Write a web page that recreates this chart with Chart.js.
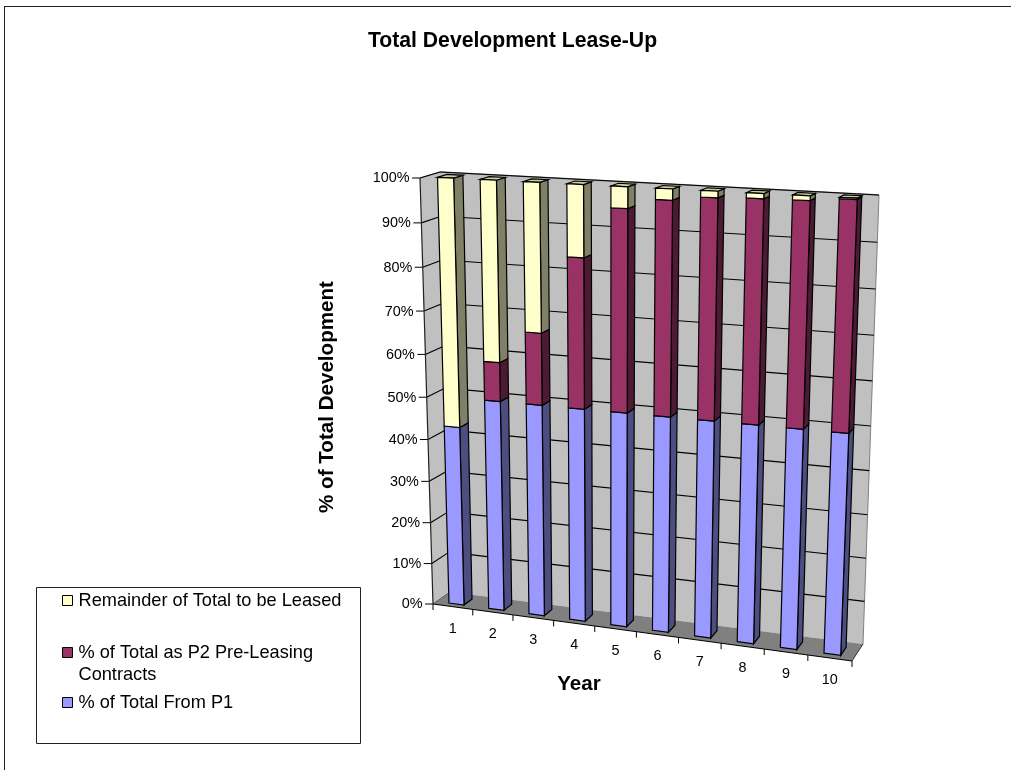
<!DOCTYPE html>
<html>
<head>
<meta charset="utf-8">
<title>Total Development Lease-Up</title>
<script src="https://cdn.jsdelivr.net/npm/chart.js@4"></script>
<style>
    html, body { margin: 0; padding: 0; background: #fff; overflow: hidden; }
    #wrap { width: 1011px; height: 770px; overflow: hidden; }
    canvas { display: block; }
</style>
</head>
<body>
<div id="wrap"><canvas id="leaseUp" width="1025" height="770"></canvas></div>
<script>
const years = ['1', '2', '3', '4', '5', '6', '7', '8', '9', '10'];
const fromP1 = [43, 50, 50, 50, 50, 50, 50, 50, 50, 50];
const p2PreLeasing = [0, 9, 16.5, 34, 45.3, 47.6, 48.6, 48.9, 49, 49.7];
const remainder = [57, 41, 33.5, 16, 4.7, 2.4, 1.4, 1.1, 1, 0.3];

const FONT = '"Liberation Sans", Arial, sans-serif';

// corners of the 3d box, named by x (l/r), height (b/t) and depth (f/k)
const box = {
    lbf: [433, 604], rbf: [852, 661], lbk: [450, 592], rbk: [863, 644],
    ltf: [420, 178], rtf: [870, 200], ltk: [440, 172], rtk: [879, 195]
};
const BAR_FRONT = 0.22, BAR_BACK = 0.70;

function warp(t, k) {
    return t / (t + k * (1 - t));
}

// u along the years, v up the value axis, w from front to back, all 0..1
function project(u, v, w) {
    const s = warp(u, 1.06), h = warp(v, 1.06);
    const out = [0, 0];
    for (let i = 0; i < 2; i++) {
        const bottom = (box.lbf[i] * (1 - s) + box.rbf[i] * s) * (1 - w) + (box.lbk[i] * (1 - s) + box.rbk[i] * s) * w;
        const top = (box.ltf[i] * (1 - s) + box.rtf[i] * s) * (1 - w) + (box.ltk[i] * (1 - s) + box.rtk[i] * s) * w;
        out[i] = bottom * (1 - h) + top * h;
    }
    return out;
}

function face(ctx, pts, fill, stroke, width) {
    ctx.beginPath();
    pts.forEach((p, i) => i ? ctx.lineTo(p[0], p[1]) : ctx.moveTo(p[0], p[1]));
    ctx.closePath();
    if (fill) { ctx.fillStyle = fill; ctx.fill(); }
    if (stroke) { ctx.strokeStyle = stroke; ctx.lineWidth = width || 1; ctx.stroke(); }
}

function line(ctx, a, b, color, width) {
    ctx.beginPath();
    ctx.moveTo(a[0], a[1]);
    ctx.lineTo(b[0], b[1]);
    ctx.strokeStyle = color;
    ctx.lineWidth = width || 1;
    ctx.stroke();
}

const box3d = {
    id: 'box3d',
    beforeDatasetsDraw(chart) {
        const ctx = chart.ctx, area = chart.chartArea;
        const xs = chart.scales.x, ys = chart.scales.y;
        const vOf = value => (area.bottom - ys.getPixelForValue(value)) / area.height;

        ctx.save();

        // outer frame, its right side runs off the page
        ctx.strokeStyle = '#222';
        ctx.lineWidth = 1;
        ctx.strokeRect(4.5, 6.5, 1040, 800);

        // walls and floor
        face(ctx, [box.ltf, box.ltk, box.lbk, box.lbf], '#c0c0c0');
        face(ctx, [box.ltk, box.rtk, box.rbk, box.lbk], '#c0c0c0');
        face(ctx, [box.lbf, box.rbf, box.rbk, box.lbk], '#808080');
        line(ctx, box.ltf, box.ltk, '#808080');
        line(ctx, box.ltk, box.rtk, '#808080', 1.5);
        line(ctx, box.rtk, box.rbk, '#808080');
        line(ctx, box.rbk, box.rbf, '#333');

        // gridlines and value axis
        ctx.font = '14.4px ' + FONT;
        ys.ticks.forEach(t => {
            const v = vOf(t.value);
            const front = project(0, v, 0), back = project(0, v, 1);
            if (t.value > 0) {
                line(ctx, front, back, '#000', 1.1);
                line(ctx, back, project(1, v, 1), '#000', 1.1);
            }
            line(ctx, [front[0] - 8, front[1]], front, '#000');
            ctx.fillStyle = '#000';
            ctx.textAlign = 'right';
            ctx.textBaseline = 'middle';
            ctx.fillText(t.value + '%', front[0] - 10.5, front[1] + 0.5);
        });
        line(ctx, box.lbf, box.ltf, '#222', 1.2);
        line(ctx, box.lbf, box.lbk, '#555');

        // year axis
        line(ctx, box.lbf, box.rbf, '#000', 1.2);
        const band = 1 / years.length;
        line(ctx, box.lbf, [box.lbf[0], box.lbf[1] + 6], '#000');
        years.forEach((year, i) => {
            const edge = project(band * (i + 1), 0, 0);
            line(ctx, edge, [edge[0], edge[1] + 6], '#000');
            const mid = project((xs.getPixelForTick(i) - area.left) / area.width, 0, 0);
            ctx.fillStyle = '#000';
            ctx.textAlign = 'center';
            ctx.textBaseline = 'middle';
            ctx.fillText(year, mid[0], mid[1] + 22);
        });

        // stacked columns, bottom segment first
        chart.data.datasets.forEach((ds, d) => {
            chart.getDatasetMeta(d).data.forEach((bar, i) => {
                if (ds.data[i] <= 0) return;
                const u0 = (bar.x - bar.width / 2 - area.left) / area.width;
                const u1 = (bar.x + bar.width / 2 - area.left) / area.width;
                const v0 = (area.bottom - bar.base) / area.height;
                const v1 = (area.bottom - bar.y) / area.height;
                face(ctx, [project(u1, v0, BAR_FRONT), project(u1, v0, BAR_BACK), project(u1, v1, BAR_BACK), project(u1, v1, BAR_FRONT)], ds.sideColor, '#000', 1.2);
                if (d === chart.data.datasets.length - 1) {
                    face(ctx, [project(u0, v1, BAR_FRONT), project(u1, v1, BAR_FRONT), project(u1, v1, BAR_BACK), project(u0, v1, BAR_BACK)], ds.topColor, '#000', 1.2);
                }
                face(ctx, [project(u0, v0, BAR_FRONT), project(u1, v0, BAR_FRONT), project(u1, v1, BAR_FRONT), project(u0, v1, BAR_FRONT)], ds.backgroundColor, '#000', 1.2);
            });
        });

        // axis titles
        ctx.fillStyle = '#000';
        ctx.font = 'bold 20.6px ' + FONT;
        ctx.textAlign = 'center';
        ctx.textBaseline = 'middle';
        ctx.fillText('Year', 579, 684);
        ctx.save();
        ctx.translate(327, 397);
        ctx.rotate(-Math.PI / 2);
        ctx.fillText('% of Total Development', 0, 0);
        ctx.restore();

        // legend, listed top of the stack first
        face(ctx, [[36.5, 587.5], [360.5, 587.5], [360.5, 743.5], [36.5, 743.5]], '#fff', '#222');
        ctx.font = '18.2px ' + FONT;
        ctx.textAlign = 'left';
        const legend = [
            { ds: chart.data.datasets[2], y: 601, lines: [chart.data.datasets[2].label] },
            { ds: chart.data.datasets[1], y: 653, lines: ['% of Total as P2 Pre-Leasing', 'Contracts'] },
            { ds: chart.data.datasets[0], y: 703, lines: [chart.data.datasets[0].label] }
        ];
        legend.forEach(item => {
            face(ctx, [[62.5, item.y - 5.5], [72.5, item.y - 5.5], [72.5, item.y + 4.5], [62.5, item.y + 4.5]], item.ds.backgroundColor, '#000', 1);
            ctx.fillStyle = '#000';
            item.lines.forEach((text, n) => ctx.fillText(text, 78.5, item.y + n * 22));
        });

        ctx.restore();
        return false;
    }
};

new Chart(document.getElementById('leaseUp'), {
    type: 'bar',
    data: {
        labels: years,
        datasets: [
            { label: '% of Total From P1', data: fromP1, backgroundColor: '#9999ff', sideColor: '#4d4d80', topColor: '#7a7acc' },
            { label: '% of Total as P2 Pre-Leasing Contracts', data: p2PreLeasing, backgroundColor: '#993366', sideColor: '#4d1a33', topColor: '#7a2952' },
            { label: 'Remainder of Total to be Leased', data: remainder, backgroundColor: '#ffffcc', sideColor: '#808066', topColor: '#cccca3' }
        ]
    },
    plugins: [box3d],
    options: {
        responsive: false,
        animation: false,
        barPercentage: 0.38,
        categoryPercentage: 1,
        layout: { padding: 0 },
        scales: {
            x: { stacked: true, display: false },
            y: { stacked: true, display: false, min: 0, max: 100, ticks: { stepSize: 10 } }
        },
        plugins: {
            legend: { display: false },
            tooltip: { enabled: false },
            title: {
                display: true,
                text: 'Total Development Lease-Up',
                color: '#000',
                font: { family: FONT, size: 21.2, weight: 'bold' },
                padding: { top: 28, bottom: 0 }
            }
        }
    }
});
</script>
</body>
</html>
